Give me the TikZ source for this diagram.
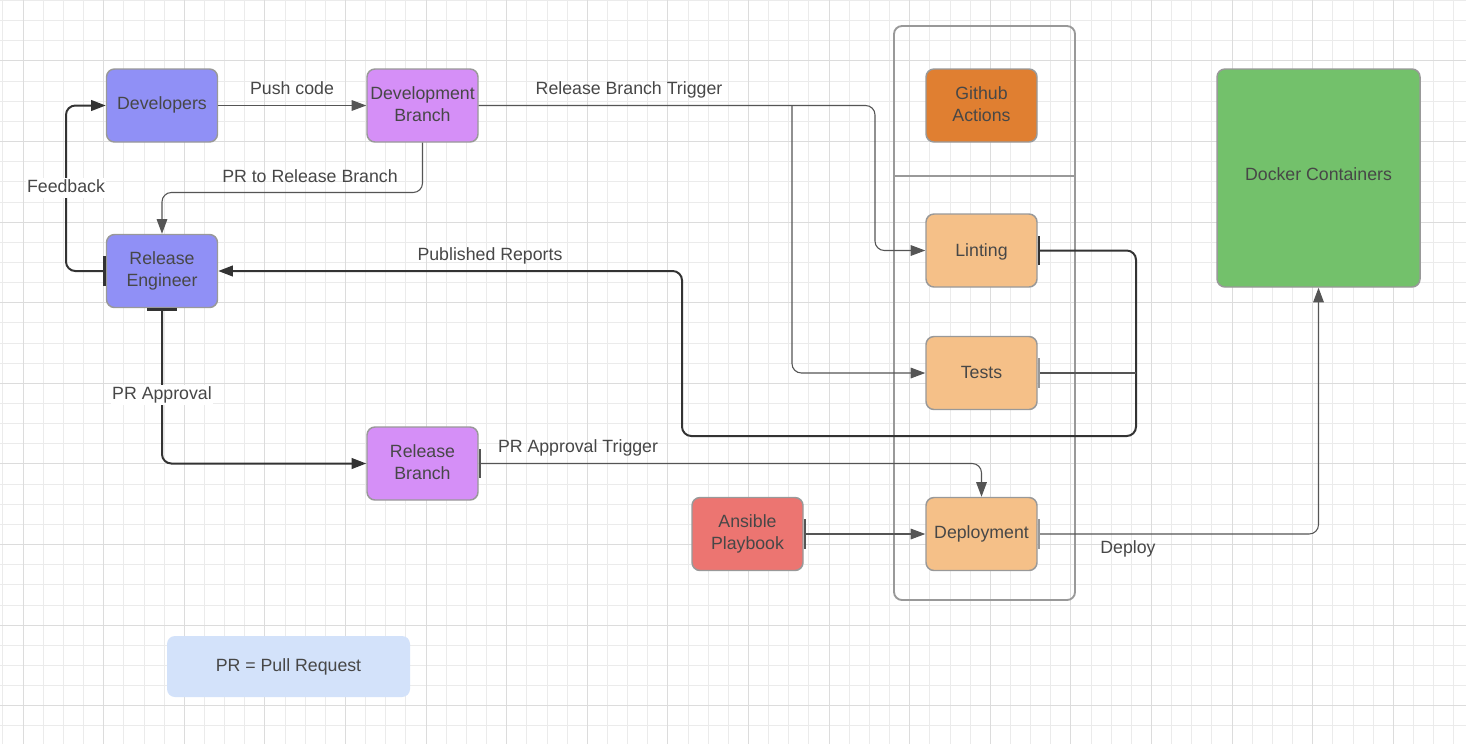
\documentclass[tikz,border=0pt]{standalone}
\usepackage{fontspec}
\setmainfont{Liberation Sans}
\usetikzlibrary{arrows.meta}
\definecolor{gridminor}{HTML}{EBEBEB}
\definecolor{gridmajor}{HTML}{DCDCDC}
\definecolor{boxline}{HTML}{999999}
\definecolor{txt}{HTML}{474747}
\definecolor{devc}{HTML}{9090F6}
\definecolor{violc}{HTML}{D58FF7}
\definecolor{ghc}{HTML}{E07F31}
\definecolor{dockc}{HTML}{73C16B}
\definecolor{stepc}{HTML}{F5C088}
\definecolor{ansc}{HTML}{EC7571}
\definecolor{legc}{HTML}{D3E2FA}
\definecolor{thinc}{HTML}{555555}
\definecolor{thickc}{HTML}{333333}
\begin{document}
\begin{tikzpicture}[x=0.75pt,y=-0.75pt,
  txtfont/.style={font=\fontsize{13.3}{16.5}\selectfont, text=txt},
  box/.style={draw=boxline, line width=1.1pt, rounded corners=6pt,
    minimum width=83.25pt, minimum height=54.75pt, inner sep=0pt,
    align=center, txtfont},
  onebox/.style={box, align=none, text height=9.6pt, text depth=2.8pt},
  lbl/.style={txtfont, inner sep=1pt, text height=9.6pt, text depth=2.8pt},
  thinline/.style={draw=thinc, line width=0.8pt, rounded corners=7pt},
  thickline/.style={draw=thickc, line width=1.5pt, rounded corners=7pt},
  tip/.style={-{Triangle[length=11pt,width=8pt]}},
  bartip/.style={{Bar[width=22pt,line width=2pt]}-{Triangle[length=11pt,width=8pt]}},
]
\useasboundingbox (0,0) rectangle (1466,744);
\fill[white] (0,0) rectangle (1466,744);
% grid
\foreach \i in {0,...,73} \draw[gridminor, line width=0.6pt] (2.85+20.15*\i,0) -- (2.85+20.15*\i,744);
\foreach \i in {0,...,37} \draw[gridminor, line width=0.6pt] (0,0.4+20.15*\i) -- (1466,0.4+20.15*\i);
\foreach \i in {0,...,18} \draw[gridmajor, line width=0.7pt] (23+80.6*\i,0) -- (23+80.6*\i,744);
\foreach \i in {0,...,9} \draw[gridmajor, line width=0.7pt] (0,60.85+80.6*\i) -- (1466,60.85+80.6*\i);

% container frame
\node[draw=boxline, line width=1.4pt, rounded corners=6pt, minimum width=135.75pt,
  minimum height=430.5pt, inner sep=0pt] (frame) at (984.5,313) {};
\draw[boxline, line width=1.4pt] (frame.west |- 0,176) -- (frame.east |- 0,176);

% nodes
\node[onebox, fill=devc] (dev) at (162,105.5) {\raisebox{0.75pt}{Developers}};
\node[box, fill=violc] (devb) at (422.5,105.5) {\raisebox{1.5pt}{Development}\\\raisebox{1.5pt}{Branch}};
\node[box, fill=ghc] (gha) at (981.5,105.5) {\raisebox{1.5pt}{Github}\\\raisebox{1.5pt}{Actions}};
\node[onebox, fill=dockc, minimum width=152.25pt, minimum height=163.5pt] (dock) at (1318.5,178) {\raisebox{1.5pt}{Docker Containers}};
\node[box, fill=devc] (re) at (162,271) {\raisebox{1.5pt}{Release}\\\raisebox{1.5pt}{Engineer}};
\node[onebox, fill=stepc] (lint) at (981.5,250.5) {\raisebox{-0.75pt}{Linting}};
\node[onebox, fill=stepc] (tests) at (981.5,373) {\raisebox{-0.75pt}{Tests}};
\node[box, fill=violc] (rb) at (422.5,463.5) {\raisebox{1.5pt}{Release}\\\raisebox{1.5pt}{Branch}};
\node[box, fill=ansc] (ans) at (747.5,534) {\raisebox{1.5pt}{Ansible}\\\raisebox{1.5pt}{Playbook}};
\node[onebox, fill=stepc] (depl) at (981.5,534) {Deployment};
\node[fill=legc, rounded corners=6pt, minimum width=182.25pt, minimum height=45.75pt,
  inner sep=0pt, txtfont] (legend) at (288.5,666.5) {PR = Pull Request};

% coordinates
\coordinate (c1) at (875,105.5);
\coordinate (j1) at (792,105.5);
\coordinate (c2) at (422.5,192.5);
\coordinate (c3) at (66,271);
\coordinate (c4) at (1136,250.5);
\coordinate (c5) at (1136,436);
\coordinate (c6) at (682,436);

% connectors
\draw[thinline, tip] (dev.east) -- (devb.west);
\draw[thinline, tip] (devb.east) -- (c1) |- (lint.west);
\draw[thinline, tip] (j1) |- (tests.west);
\draw[thinline, tip] (devb.south) -- (c2) -| (re.north);
\draw[thickline, bartip] (re.west) -- (c3) |- (dev.west);
\draw[thickline, bartip] (lint.east) -- (c4) -- (c5) -- (c6) |- (re.east);
\draw[thinline, {Bar[width=22pt,line width=2pt,color=boxline]}-] (tests.east) -- (tests.east -| c4);
\draw[thickline, bartip] (re.south) |- (rb.west);
\draw[thinline, bartip] (rb.east) -| (depl.north);
\draw[thinline, bartip] (ans.east) -- (depl.west);
\draw[thinline, {Bar[width=22pt,line width=2pt,color=boxline]}-{Triangle[length=11pt,width=8pt]}] (depl.east) -| (dock.south);

% labels
\node[lbl] (l1) at (292,90) {Push code};
\node[lbl] (l2) at (629,90) {Release Branch Trigger};
\node[lbl] (l3) at (310,177.5) {PR to Release Branch};
\node[lbl, fill=white] (l4) at (66,188) {Feedback};
\node[lbl] (l5) at (490,256) {Published Reports};
\node[lbl, fill=white] (l6) at (162,395) {PR Approval};
\node[lbl] (l7) at (578,448) {PR Approval Trigger};
\node[lbl] (l8) at (1128,549) {Deploy};
\end{tikzpicture}
\end{document}
